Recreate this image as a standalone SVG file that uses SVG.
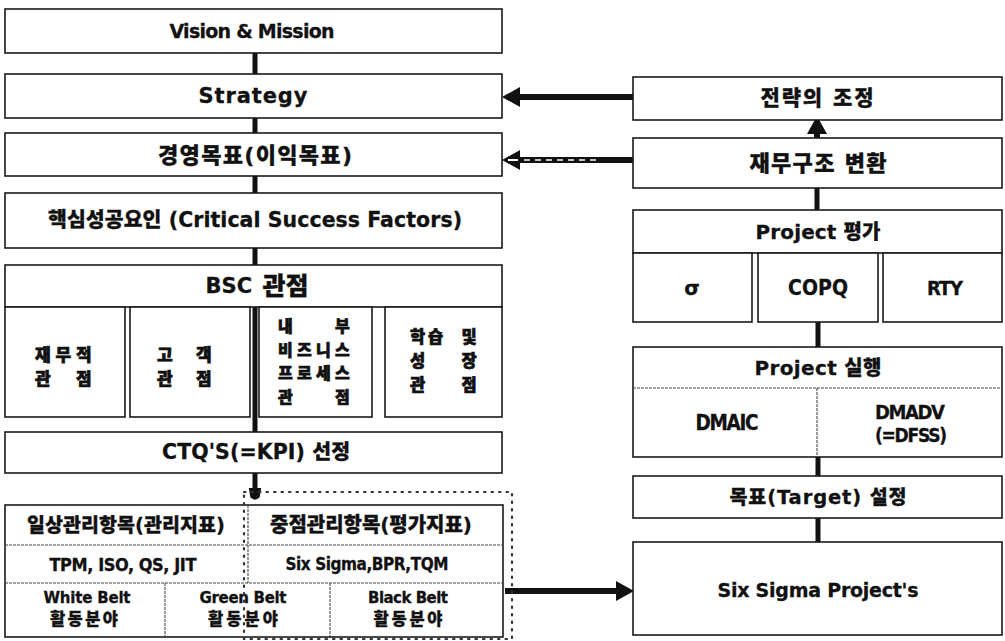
<svg xmlns="http://www.w3.org/2000/svg" width="1005" height="641" viewBox="0 0 1005 641">
<style>
.box{fill:#fff;stroke:#1a1a1a;stroke-width:1.6}
.div{stroke:#444;stroke-width:1.1;stroke-dasharray:3 1;fill:none}
.conn{stroke:#111;stroke-width:5;fill:none}
.arr{stroke:#111;stroke-width:6;fill:none}
.dot{fill:none;stroke:#333;stroke-width:2.2;stroke-dasharray:1.5 6;stroke-linecap:round}
.t{font-family:"DejaVu Sans","Noto Sans CJK KR",sans-serif;font-weight:900;text-anchor:middle;dominant-baseline:central;fill:#111;stroke:#111;stroke-width:0.3}
.c{font-family:"DejaVu Sans Condensed","DejaVu Sans","Noto Sans CJK KR",sans-serif}
.k{font-family:"Noto Sans CJK KR","DejaVu Sans",sans-serif;font-weight:900;dominant-baseline:central;fill:#111;stroke:#111;stroke-width:0.7}
</style>
<defs>
<marker id="ah" viewBox="0 0 18 20" refX="0" refY="10" markerWidth="18" markerHeight="20" markerUnits="userSpaceOnUse" orient="auto">
<path d="M0,0 L18,10 L0,20 z" fill="#111"/>
</marker>
<marker id="ahh" viewBox="0 0 18 20" refX="0" refY="10" markerWidth="18" markerHeight="20" markerUnits="userSpaceOnUse" orient="auto">
<path d="M0,0 L18,10 L0,20 z" fill="#111"/>
<path d="M2,10 L12,10" stroke="#fff" stroke-width="2"/>
</marker>
<marker id="ahd" viewBox="0 0 18 16" refX="0" refY="8" markerWidth="14" markerHeight="16" markerUnits="userSpaceOnUse" orient="auto">
<path d="M0,0 L12,2 Q18,8 12,14 L0,16 z" fill="#111"/>
</marker>
</defs>

<g id="connectors">
<line class="conn" x1="255" y1="53" x2="255" y2="74"/>
<line class="conn" x1="255" y1="118" x2="255" y2="133"/>
<line class="conn" x1="255" y1="176" x2="255" y2="193"/>
<line class="conn" x1="255" y1="248" x2="255" y2="265"/>
<line class="conn" x1="255" y1="307" x2="255" y2="432"/>
<line class="conn" x1="255" y1="473" x2="255" y2="488" marker-end="url(#ahd)"/>
<line class="arr" x1="633" y1="97" x2="520" y2="97" marker-end="url(#ah)"/>
<line class="arr" x1="633" y1="160" x2="520" y2="160" marker-end="url(#ahh)"/>
<line x1="524" y1="160" x2="600" y2="160" stroke="#fff" stroke-width="1.5" stroke-dasharray="6 5"/>
<line class="arr" x1="817" y1="138" x2="817" y2="134" marker-end="url(#ah)"/>
<line class="conn" x1="817" y1="188" x2="817" y2="210"/>
<line class="conn" x1="818" y1="322" x2="818" y2="347"/>
<line class="conn" x1="818" y1="457" x2="818" y2="476"/>
<line class="conn" x1="818" y1="518" x2="818" y2="542"/>
<line class="arr" x1="505" y1="591" x2="616" y2="591" marker-end="url(#ah)"/>
</g>

<g id="vision"><rect class="box" x="5" y="9" width="497" height="44"/><text class="t" x="252" y="31" font-size="19" textLength="165" lengthAdjust="spacing">Vision &amp; Mission</text></g>
<g id="strategy"><rect class="box" x="5" y="74" width="497" height="44"/><text class="t" x="253" y="96" font-size="21" textLength="109" lengthAdjust="spacing">Strategy</text></g>
<g id="goal"><rect class="box" x="5" y="133" width="497" height="43"/><text class="t" x="255" y="155" font-size="22" textLength="194" lengthAdjust="spacing">경영목표(이익목표)</text></g>
<g id="csf"><rect class="box" x="5" y="193" width="497" height="55"/><text class="t" x="255" y="220" font-size="20.5" textLength="414" lengthAdjust="spacing">핵심성공요인 (Critical Success Factors)</text></g>

<g id="bsc">
<rect class="box" x="5" y="265" width="497" height="42"/>
<text class="t" x="257" y="286" font-size="21">BSC <tspan font-size="25" dx="3">관점</tspan></text>
<rect class="box" x="5" y="307" width="120" height="110"/>
<rect class="box" x="130" y="307" width="120" height="110"/>
<rect class="box" x="259" y="307" width="113" height="110"/>
<rect class="box" x="385" y="307" width="117" height="110"/>
<text class="k" font-size="17"><tspan x="35" y="353">재</tspan><tspan x="55.5" y="353">무</tspan><tspan x="76" y="353">적</tspan><tspan x="35" y="377">관 </tspan><tspan x="76" y="377">점</tspan></text>
<text class="k" font-size="17"><tspan x="157" y="353">고 </tspan><tspan x="196" y="353">객</tspan><tspan x="157" y="377">관 </tspan><tspan x="196" y="377">점</tspan></text>
<text class="k" font-size="16"><tspan x="278" y="325">내 </tspan><tspan x="335" y="325">부</tspan><tspan x="278" y="348.5">비</tspan><tspan x="297" y="348.5">즈</tspan><tspan x="316" y="348.5">니</tspan><tspan x="335" y="348.5">스</tspan><tspan x="278" y="372">프</tspan><tspan x="297" y="372">로</tspan><tspan x="316" y="372">세</tspan><tspan x="335" y="372">스</tspan><tspan x="278" y="395.5">관 </tspan><tspan x="335" y="395.5">점</tspan></text>
<text class="k" font-size="16.5"><tspan x="410" y="336">학</tspan><tspan x="428" y="336">습 </tspan><tspan x="461.5" y="336">및</tspan><tspan x="410" y="360">성 </tspan><tspan x="461.5" y="360">장</tspan><tspan x="410" y="384">관 </tspan><tspan x="461.5" y="384">점</tspan></text>
</g>

<g id="ctq"><rect class="box" x="5" y="432" width="497" height="41"/><text class="t" x="256" y="452" font-size="20.5" textLength="188" lengthAdjust="spacing">CTQ'S(=KPI) 선정</text></g>

<g id="items">
<rect class="box" x="5" y="505" width="498" height="132"/>
<line class="div" x1="5" y1="545" x2="503" y2="545"/>
<line class="div" x1="5" y1="583" x2="503" y2="583"/>
<line class="div" x1="248" y1="505" x2="248" y2="583"/>
<line class="div" x1="165" y1="583" x2="165" y2="637"/>
<line class="div" x1="330" y1="583" x2="330" y2="637"/>
<text class="t" x="126" y="525" font-size="19.5" textLength="198" lengthAdjust="spacing">일상관리항목(관리지표)</text>
<text class="t" x="371" y="525" font-size="20" textLength="202" lengthAdjust="spacing">중점관리항목(평가지표)</text>
<text class="t c" x="123" y="564" font-size="18" textLength="147" lengthAdjust="spacing">TPM, ISO, QS, JIT</text>
<text class="t c" x="367" y="564" font-size="17" textLength="163" lengthAdjust="spacing">Six Sigma,BPR,TQM</text>
<text class="t" x="87" y="598" font-size="15" textLength="87" lengthAdjust="spacing">White Belt</text>
<text class="t" x="84" y="619" font-size="16.5" textLength="68" lengthAdjust="spacing">활동분야</text>
<text class="t" x="243" y="598" font-size="15" textLength="87" lengthAdjust="spacing">Green Belt</text>
<text class="t" x="243" y="619" font-size="16.5" textLength="70" lengthAdjust="spacing">활동분야</text>
<text class="t" x="408" y="598" font-size="15" textLength="80" lengthAdjust="spacing">Black Belt</text>
<text class="t" x="408" y="619" font-size="16.5" textLength="69" lengthAdjust="spacing">활동분야</text>
</g>
<g id="focus-area"><rect class="dot" x="244" y="492" width="268" height="147"/></g>

<g id="adjust"><rect class="box" x="633" y="77" width="369" height="43"/><text class="t" x="817" y="98" font-size="21" textLength="113" lengthAdjust="spacing">전략의 조정</text></g>
<g id="finance"><rect class="box" x="633" y="138" width="369" height="50"/><text class="t" x="818" y="163" font-size="22" textLength="137" lengthAdjust="spacing">재무구조 변환</text></g>
<g id="eval">
<rect class="box" x="633" y="210" width="369" height="43"/>
<text class="t" x="818" y="232" font-size="20" textLength="125" lengthAdjust="spacing">Project 평가</text>
<rect class="box" x="633" y="253" width="119" height="69"/>
<rect class="box" x="758" y="253" width="120" height="69"/>
<rect class="box" x="883" y="253" width="119" height="69"/>
<text class="t" x="692" y="288" font-size="20">σ</text>
<text class="t c" x="818" y="288" font-size="21" textLength="60" lengthAdjust="spacing">COPQ</text>
<text class="t c" x="945" y="288" font-size="20" textLength="36" lengthAdjust="spacing">RTY</text>
</g>
<g id="exec">
<rect class="box" x="633" y="347" width="369" height="110"/>
<line class="div" x1="633" y1="388" x2="1002" y2="388"/>
<line class="div" x1="817" y1="388" x2="817" y2="457"/>
<text class="t" x="818" y="368" font-size="20" textLength="127" lengthAdjust="spacing">Project 실행</text>
<text class="t c" x="727" y="423" font-size="20.5" textLength="63" lengthAdjust="spacing">DMAIC</text>
<text class="t c" x="910" y="412" font-size="20" textLength="70" lengthAdjust="spacing">DMADV</text>
<text class="t c" x="911" y="435" font-size="19" textLength="72" lengthAdjust="spacing">(=DFSS)</text>
</g>
<g id="target"><rect class="box" x="633" y="476" width="369" height="42"/><text class="t" x="818" y="497" font-size="19.5" textLength="177" lengthAdjust="spacing">목표(Target) 설정</text></g>
<g id="projects"><rect class="box" x="633" y="542" width="369" height="93"/><text class="t" x="818" y="590" font-size="19" textLength="201" lengthAdjust="spacing">Six Sigma Project's</text></g>
</svg>
